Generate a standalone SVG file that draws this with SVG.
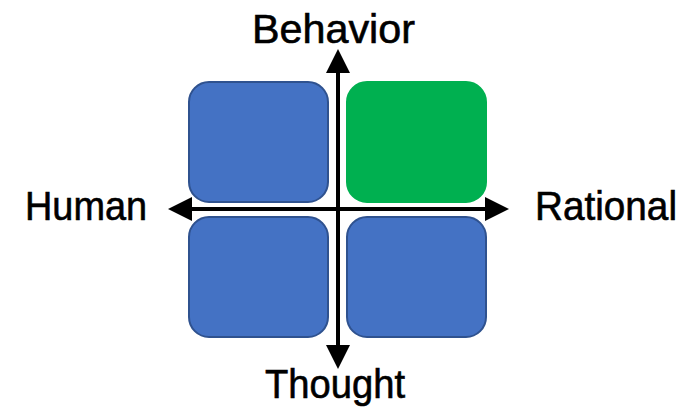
<svg xmlns="http://www.w3.org/2000/svg" width="683" height="409" viewBox="0 0 683 409">
<style>
.blue{fill:#4472C4;stroke:#2F528F;stroke-width:2}
.green{fill:#00B050;stroke:#00B050;stroke-width:2}
.lbl{font-family:"Liberation Sans",Arial,sans-serif;font-size:40px;fill:#000;stroke:#000;stroke-width:0.6}
.ax{stroke:#000;stroke-width:4;fill:none}
</style>
<defs>
<marker id="ah" viewBox="0 0 6 6" refX="0" refY="3" markerWidth="6" markerHeight="6" orient="auto" markerUnits="strokeWidth">
<path d="M0,0 L6,3 L0,6 Z" fill="#000"/>
</marker>
</defs>
<g id="node-tl"><rect class="blue" x="189" y="82" width="139" height="120" rx="20"/></g>
<g id="node-tr"><rect class="green" x="347" y="82" width="139" height="120" rx="20"/></g>
<g id="node-bl"><rect class="blue" x="189" y="217" width="139" height="120" rx="20"/></g>
<g id="node-br"><rect class="blue" x="347" y="217" width="139" height="120" rx="20"/></g>
<g id="connectors">
<line class="ax" x1="338" y1="209" x2="338" y2="73" marker-end="url(#ah)"/>
<line class="ax" x1="338" y1="209" x2="338" y2="345" marker-end="url(#ah)"/>
<line class="ax" x1="338" y1="209" x2="192" y2="209" marker-end="url(#ah)"/>
<line class="ax" x1="338" y1="209" x2="485" y2="209" marker-end="url(#ah)"/>
</g>
<g id="labels">
<text class="lbl" x="252" y="43" textLength="163" lengthAdjust="spacingAndGlyphs">Behavior</text>
<text class="lbl" x="25" y="220" textLength="122" lengthAdjust="spacingAndGlyphs">Human</text>
<text class="lbl" x="535" y="220" textLength="142" lengthAdjust="spacingAndGlyphs">Rational</text>
<text class="lbl" x="265" y="398" textLength="140" lengthAdjust="spacingAndGlyphs">Thought</text>
</g>
</svg>
